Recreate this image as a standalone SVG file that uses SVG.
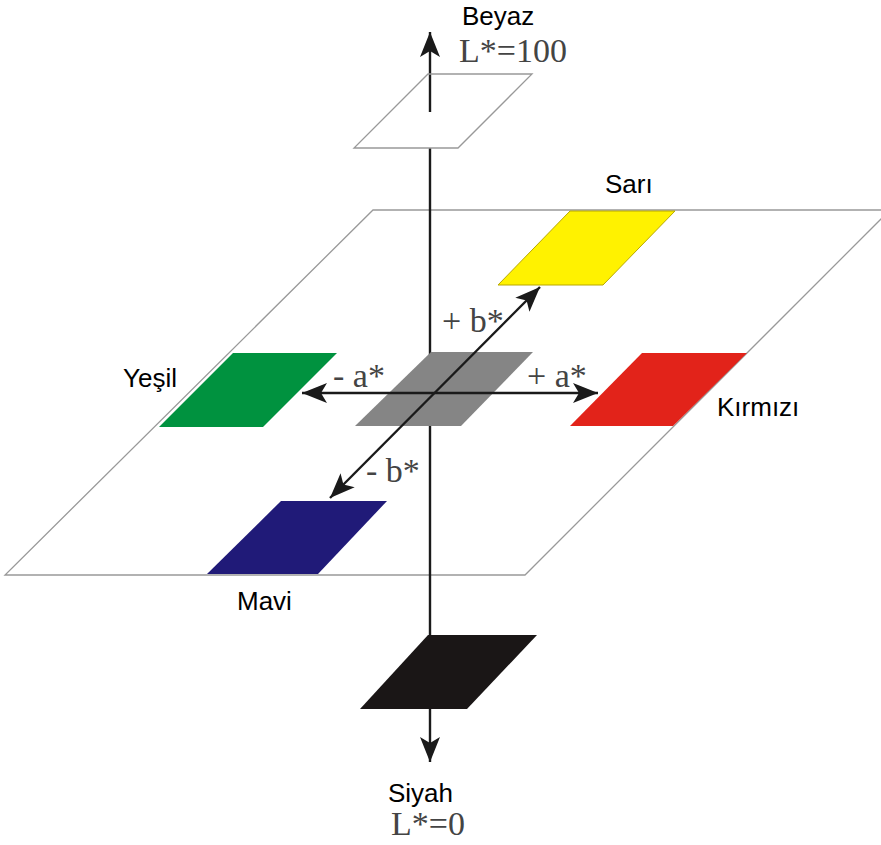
<svg xmlns="http://www.w3.org/2000/svg" width="881" height="845" viewBox="0 0 881 845">
<style>
.lbl{font-family:"Liberation Sans",Arial,sans-serif;font-size:26px;fill:#000}
.ser{font-family:"Liberation Serif","Times New Roman",serif;font-size:34px;fill:#444}
.ax{stroke:#1a1a1a;stroke-width:2.4;fill:none}
.pl{stroke:#999;stroke-width:1.3}
</style>
<defs>
<marker id="ah" viewBox="0 -11 25 22" refX="25" refY="0" markerWidth="25" markerHeight="22" markerUnits="userSpaceOnUse" orient="auto-start-reverse">
<path d="M0,-10 L25,0 L0,10 L6,0 Z" fill="#1a1a1a"/>
</marker>
</defs>
<rect width="881" height="845" fill="#fff"/>
<g id="plane">
<polygon class="pl" points="373,210 890,210 525,575 5,575" fill="#fff"/>
</g>
<g id="connectors">
<line class="ax" x1="430" y1="148" x2="430" y2="635"/>
<line class="ax" x1="430" y1="112" x2="430" y2="32" marker-end="url(#ah)"/>
<line class="ax" x1="430" y1="709" x2="430" y2="762" marker-end="url(#ah)"/>
</g>
<g id="white">
<polygon class="pl" points="428,74 532,74 458,148 354,148" fill="none"/>
</g>
<g id="gray"><polygon points="431,352 533,352 461,426 355,426" fill="#858585"/></g>
<g id="yellow"><polygon points="570,211 675,211 603,285 498,285" fill="#fff200" stroke="#b8a800" stroke-width="1"/></g>
<g id="green"><polygon points="233,353 337,353 263,427 159,427" fill="#00923f"/></g>
<g id="red"><polygon points="642,353 747,353 673,426 570,426" fill="#e2231a"/></g>
<g id="blue"><polygon points="281,501 387,501 318,574 207,574" fill="#201a78"/></g>
<g id="black"><polygon points="428,635 537,635 467,709 360,709" fill="#1a1616"/></g>
<g id="axes">
<line class="ax" x1="302" y1="393" x2="598" y2="393" marker-start="url(#ah)" marker-end="url(#ah)"/>
<line class="ax" x1="330" y1="498" x2="540" y2="287" marker-start="url(#ah)" marker-end="url(#ah)"/>
</g>
<g id="labels">
<text class="lbl" x="462" y="25">Beyaz</text>
<text class="ser" x="459" y="62">L*=100</text>
<text class="lbl" x="605" y="193">Sarı</text>
<text class="lbl" x="123" y="387">Yeşil</text>
<text class="lbl" x="717" y="416">Kırmızı</text>
<text class="lbl" x="237" y="610">Mavi</text>
<text class="lbl" x="388" y="802">Siyah</text>
<text class="ser" x="391" y="835">L*=0</text>
<text class="ser" x="442" y="332">+ b*</text>
<text class="ser" x="333" y="387">- a*</text>
<text class="ser" x="527" y="387">+ a*</text>
<text class="ser" x="366" y="482">- b*</text>
</g>
</svg>
